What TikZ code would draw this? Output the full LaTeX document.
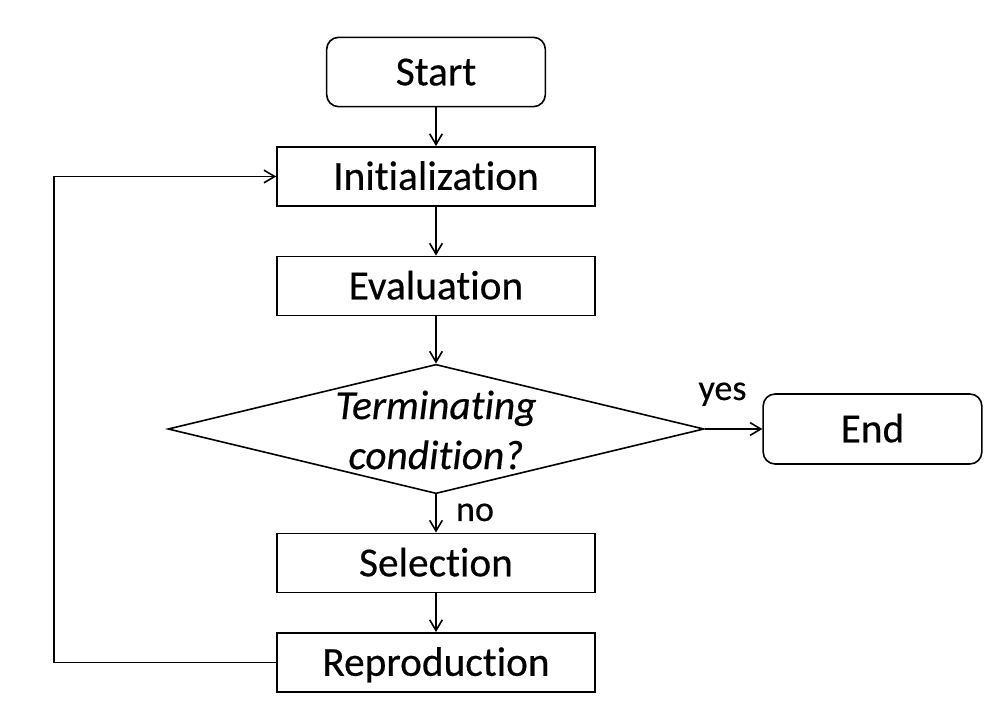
\documentclass[tikz,border=0pt]{standalone}
\usepackage{fontspec}
\setmainfont[Ligatures={NoCommon},FakeBold=0.4,BoldFont=*,ItalicFont=*-Italic]{Carlito}
\usetikzlibrary{shapes.geometric,arrows.meta}
\begin{document}
\begin{tikzpicture}[x=0.75pt,y=-0.75pt,
  line width=1.2pt,
  every node/.style={inner sep=0pt},
  mainfont/.style={font=\fontsize{31}{37.5}\selectfont},
  procbox/.style={draw,rectangle,mainfont,minimum width=238.5pt,minimum height=44.5pt,text height=20pt,text depth=0pt},
  termbox/.style={draw,rectangle,rounded corners=9pt,mainfont,minimum width=164pt,minimum height=52pt,text height=20pt,text depth=0pt},
  decbox/.style={draw,diamond,minimum width=402pt,minimum height=97pt},
  lbl/.style={font=\fontsize{27}{32}\selectfont,anchor=base},
  arr/.style={-{Straight Barb[length=8pt,width=9.5pt]}}
]
\useasboundingbox (0,0) rectangle (1008,705);
\node[termbox] (start) at (436,72) {Start};
\node[procbox] (init) at (436,176.5) {Initialization};
\node[procbox] (eval) at (436,286) {Evaluation};
\node[decbox] (cond) at (436,429) {};
\node[align=center,font=\fontsize{31}{37.5}\selectfont\itshape] (condtext) at (436,430) {Terminating\\condition?};
\node[termbox,minimum height=52.5pt] (end) at (872.5,429) {End};
\node[procbox] (sel) at (436,563) {Selection};
\node[procbox] (rep) at (436,662.5) {Reproduction};
\node[lbl] (yes) at (722.5,400) {yes};
\node[lbl] (no) at (475,521) {no};
\coordinate (lb) at (54,662.5);
\coordinate (lt) at (54,176.5);
\draw[arr] (start.south) -- (init.north);
\draw[arr] (init.south) -- (eval.north);
\draw[arr] (eval.south) -- (cond.north);
\draw[arr] (cond.east) -- (end.west);
\draw[arr] (cond.south) -- (sel.north);
\draw[arr] (sel.south) -- (rep.north);
\draw[arr] (rep.west) -- (lb) -- (lt) -- (init.west);
\end{tikzpicture}
\end{document}
